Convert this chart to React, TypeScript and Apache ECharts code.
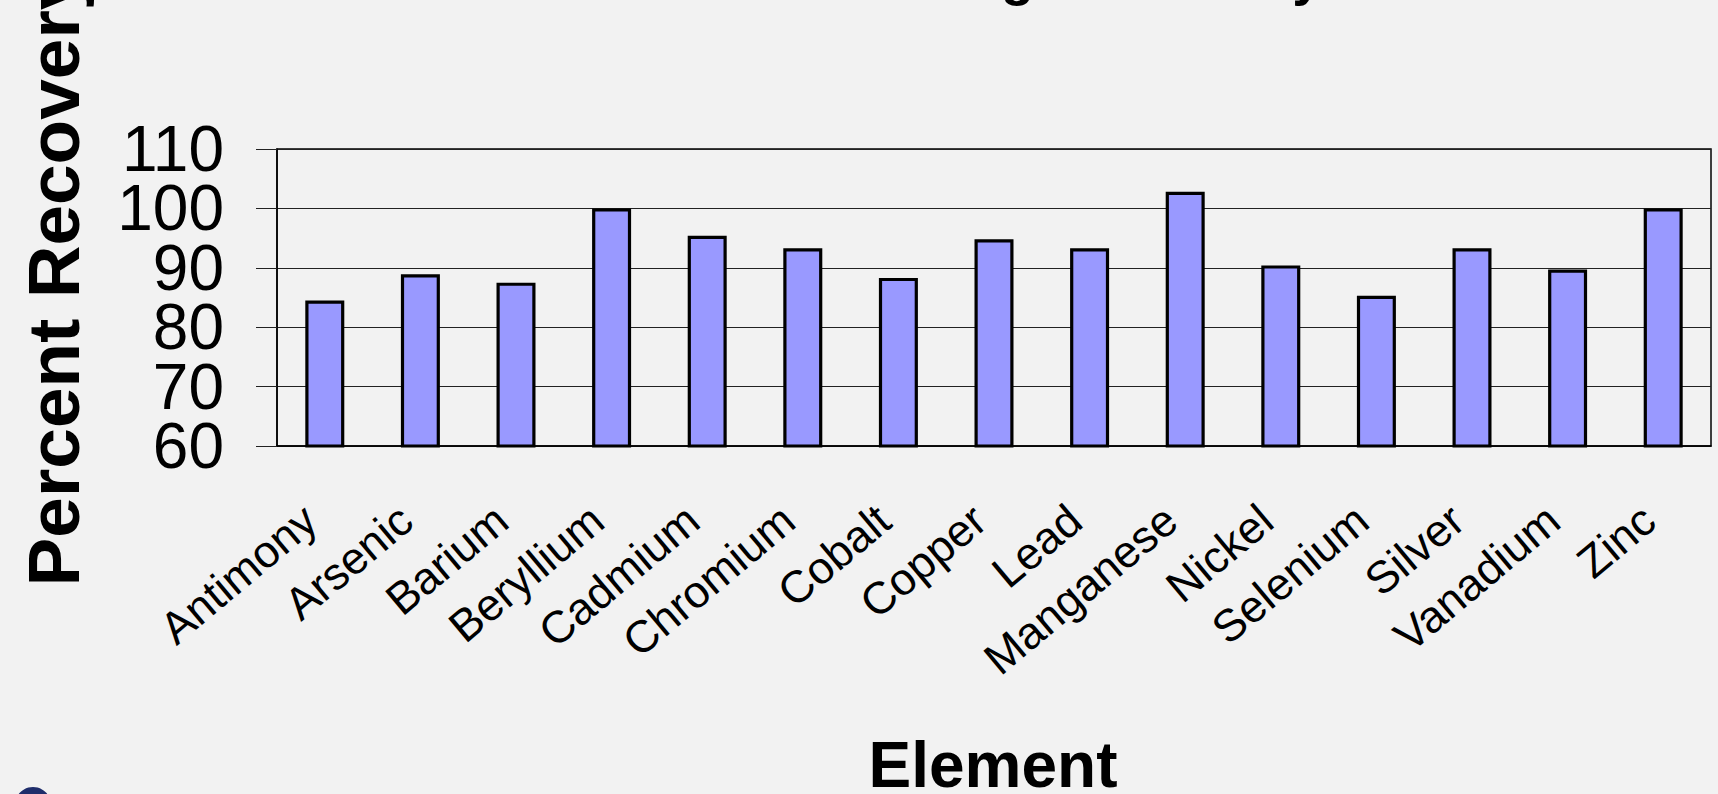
import React, { useEffect, useRef } from "react";
import * as echarts from "echarts";

const categories = [
  "Antimony", "Arsenic", "Barium", "Beryllium", "Cadmium", "Chromium", "Cobalt",
  "Copper", "Lead", "Manganese", "Nickel", "Selenium", "Silver", "Vanadium", "Zinc",
];
const recovery = [84.5, 88.9, 87.5, 100, 95.4, 93.3, 88.3, 94.8, 93.3, 102.8, 90.4, 85.3, 93.3, 89.7, 100];
const yMin = 60;
const yMax = 110;
const yStep = 10;
const chartTitle = "Average Recovery";
const xTitle = "Element";
const yTitle = "Percent Recovery";

const FONT = '"Liberation Sans", Arial, Helvetica, sans-serif';

// the tick labels are large enough to touch; they are split over two
// coincident axes (alternate ticks) so none is dropped as overlapping
const isEvenStep = (v: number) => Math.round((v - yMin) / yStep) % 2 === 0;

const yLabelStyle = {
  fontSize: 64,
  lineHeight: 52,
  color: "#000",
  margin: 53,
  fontFamily: FONT,
  showMinLabel: true,
  showMaxLabel: true,
  hideOverlap: false,
};

export default function App() {
  const ref = useRef<HTMLDivElement>(null);
  useEffect(() => {
    document.body.style.margin = "0";
    const chart = echarts.init(ref.current!, null, { renderer: "svg" });
    chart.setOption({
      animation: false,
      backgroundColor: "#f2f2f2",
      textStyle: { fontFamily: FONT },
      grid: {
        left: 277,
        right: 7,
        top: 149,
        bottom: 348,
        show: true,
        borderColor: "#000",
        borderWidth: 1.5,
        containLabel: false,
      },
      xAxis: {
        type: "category",
        data: categories,
        axisLine: { show: true, lineStyle: { color: "#000", width: 1.5 } },
        axisTick: { show: false },
        splitLine: { show: false },
        axisLabel: {
          interval: 0,
          rotate: 40,
          fontSize: 45,
          lineHeight: 45,
          color: "#000",
          fontFamily: FONT,
          margin: 85,
          verticalAlign: "bottom",
        },
      },
      yAxis: [
        {
          type: "value",
          position: "left",
          min: yMin,
          max: yMax,
          interval: yStep,
          axisLine: { show: true, lineStyle: { color: "#000", width: 1.5 } },
          axisTick: { show: true, inside: false, length: 21, lineStyle: { color: "#222", width: 1 } },
          axisLabel: {
            ...yLabelStyle,
            formatter: (v: number) => (isEvenStep(v) ? String(v) : ""),
          },
          splitLine: { show: true, lineStyle: { color: "#222", width: 1 } },
        },
        {
          type: "value",
          position: "left",
          offset: 0,
          min: yMin,
          max: yMax,
          interval: yStep,
          axisLine: { show: false },
          axisTick: { show: false },
          axisLabel: {
            ...yLabelStyle,
            formatter: (v: number) => (isEvenStep(v) ? "" : String(v)),
          },
          splitLine: { show: false },
        },
      ],
      series: [
        {
          type: "bar",
          yAxisIndex: 0,
          data: recovery,
          barWidth: 39,
          itemStyle: { color: "#9999FF", borderColor: "#000", borderWidth: 3.2 },
        },
      ],
      graphic: [
        {
          type: "text",
          x: 853,
          y: -24,
          style: {
            text: chartTitle,
            fontSize: 54,
            fontWeight: "bold",
            fontFamily: FONT,
            fill: "#000",
            align: "left",
            verticalAlign: "middle",
          },
        },
        {
          type: "text",
          x: 993,
          y: 765,
          style: {
            text: xTitle,
            fontSize: 64,
            lineHeight: 50,
            fontWeight: "bold",
            fontFamily: FONT,
            fill: "#000",
            align: "center",
            verticalAlign: "middle",
          },
        },
        {
          type: "text",
          x: 53,
          y: 278,
          rotation: Math.PI / 2,
          style: {
            text: yTitle,
            fontSize: 73,
            fontWeight: "bold",
            fontFamily: FONT,
            fill: "#000",
            align: "center",
            verticalAlign: "middle",
          },
        },
        {
          type: "circle",
          shape: { cx: 33, cy: 805, r: 18 },
          style: { fill: "#1f2d6b" },
        },
      ],
    });
    return () => chart.dispose();
  }, []);
  return (
    <div
      ref={ref}
      style={{ position: "fixed", left: 0, top: 0, width: 1718, height: 794, background: "#f2f2f2" }}
    />
  );
}
